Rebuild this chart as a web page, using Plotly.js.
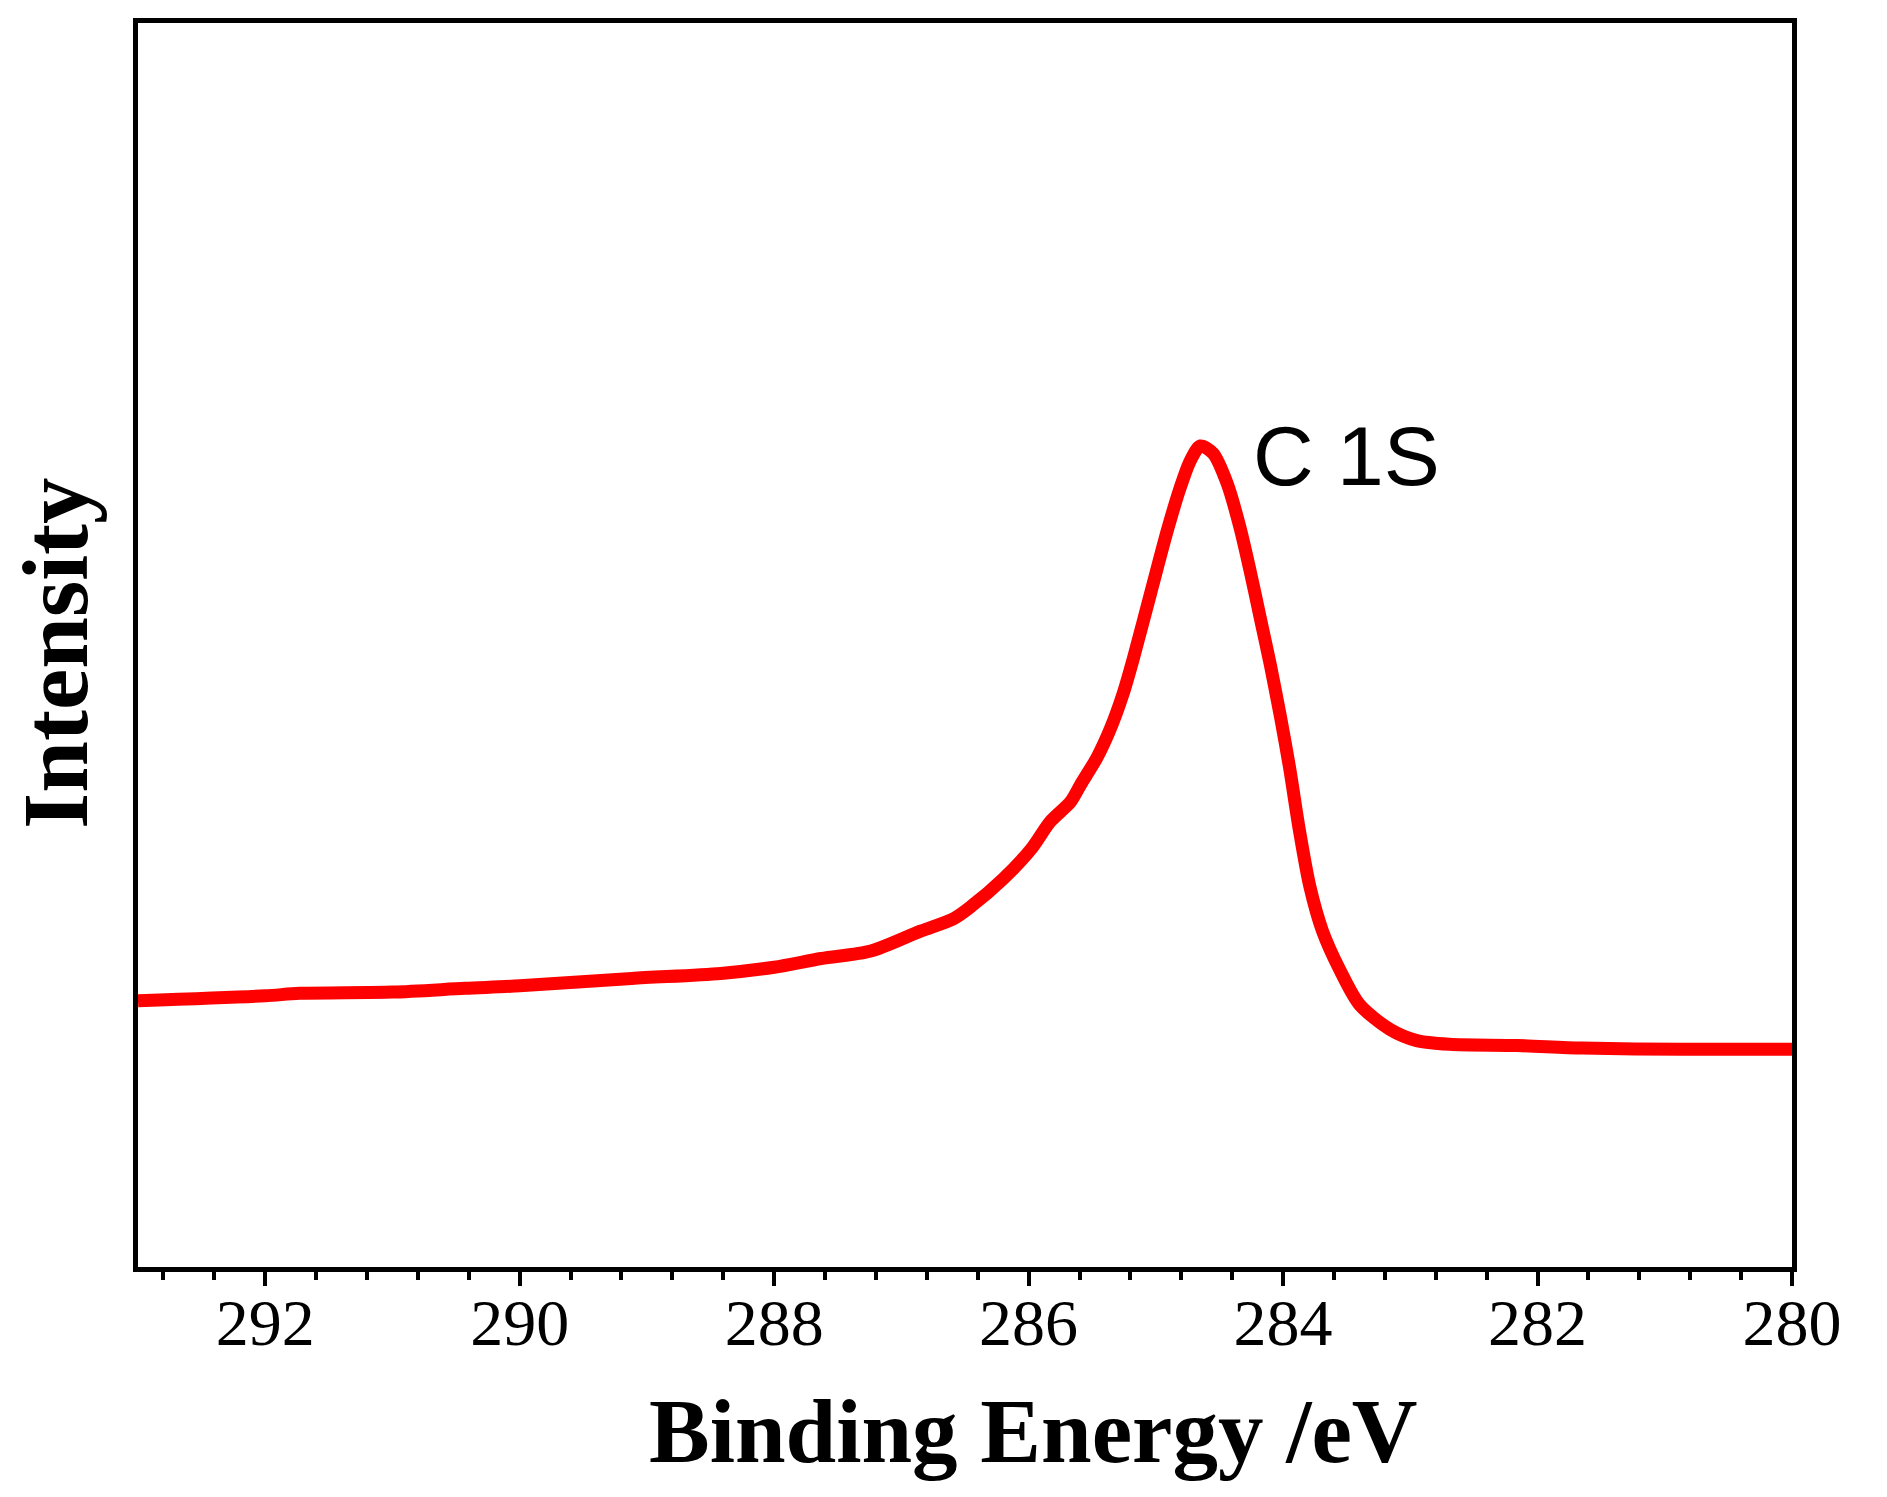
<!DOCTYPE html>
<html>
<head>
<meta charset="utf-8">
<script src="https://cdn.plot.ly/plotly-3.0.1.min.js"></script>
<style>
  html, body { margin: 0; padding: 0; background: #ffffff; }
  #chart { width: 1887px; height: 1497px; }
</style>
</head>
<body>
<div id="chart"></div>
<script>
// Binding energy (eV) and intensity (arbitrary units)
const bindingEnergy = [
  293.0, 292.0, 291.73, 291.0, 290.43, 290.0, 289.12, 288.42, 288.0, 287.63,
  287.24, 286.85, 286.59, 286.45, 286.2, 285.98, 285.83, 285.67, 285.59, 285.46,
  285.36, 285.26, 285.18, 285.04, 284.91, 284.81, 284.73, 284.65, 284.55, 284.44,
  284.34, 284.26, 284.18, 284.1, 284.02, 283.95, 283.87, 283.79, 283.69, 283.55,
  283.4, 283.16, 282.95, 282.69, 282.16, 281.65, 280.86, 280.0
];
const intensity = [
  21.4, 21.8, 22.0, 22.1, 22.4, 22.6, 23.2, 23.6, 24.1, 24.8,
  25.4, 27.0, 28.0, 29.0, 31.2, 33.6, 35.8, 37.4, 38.8, 41.0,
  43.2, 46.0, 48.8, 54.2, 59.2, 62.6, 64.8, 66.0, 65.4, 63.0,
  59.5, 56.0, 52.2, 48.4, 44.2, 40.2, 35.0, 30.6, 27.0, 23.8,
  21.1, 19.1, 18.2, 17.9, 17.8, 17.6, 17.5, 17.5
];
const xTickValues = [292, 290, 288, 286, 284, 282, 280];
const xTitle = "Binding Energy /eV";
const yTitle = "Intensity";
const peakLabel = "C 1S";
const peakLabelEnergy = 284.25;
const peakLabelIntensity = 65.2;

const serif = '"Liberation Serif", "Times New Roman", Times, serif';
const sans = '"Liberation Sans", Arial, Helvetica, sans-serif';

const trace = {
  x: bindingEnergy,
  y: intensity,
  type: 'scatter',
  mode: 'lines',
  line: { color: '#ff0000', width: 13, shape: 'spline', smoothing: 0.8 },
  showlegend: false,
  hoverinfo: 'x+y'
};

const layout = {
  width: 1887,
  height: 1497,
  paper_bgcolor: '#ffffff',
  plot_bgcolor: '#ffffff',
  margin: { l: 138, r: 95, t: 23, b: 230 },
  showlegend: false,
  xaxis: {
    range: [293.0, 280],
    tickvals: xTickValues,
    ticktext: xTickValues.map(String),
    ticks: 'outside',
    ticklen: 14,
    tickwidth: 4,
    tickcolor: '#000000',
    ticklabelstandoff: -20,
    minor: { dtick: 0.4, tick0: 280, ticks: 'outside', ticklen: 8, tickwidth: 4, tickcolor: '#000000', showgrid: false },
    showline: true,
    linecolor: '#000000',
    linewidth: 5,
    mirror: true,
    showgrid: false,
    zeroline: false,
    tickfont: { family: serif, size: 66, color: '#000000' }
  },
  yaxis: {
    range: [0, 100],
    showticklabels: false,
    ticks: '',
    showline: true,
    linecolor: '#000000',
    linewidth: 5,
    mirror: true,
    showgrid: false,
    zeroline: false
  },
  annotations: [
    {
      x: peakLabelEnergy,
      y: peakLabelIntensity,
      xref: 'x',
      yref: 'y',
      text: peakLabel,
      showarrow: false,
      xanchor: 'left',
      yanchor: 'middle',
      font: { family: sans, size: 84, color: '#000000' }
    },
    {
      x: 0.5417,
      y: -0.1326,
      xref: 'paper',
      yref: 'paper',
      text: '<b>' + xTitle + '</b>',
      showarrow: false,
      xanchor: 'center',
      yanchor: 'middle',
      font: { family: serif, size: 91, color: '#000000' }
    },
    {
      x: -0.0496,
      y: 0.4936,
      xref: 'paper',
      yref: 'paper',
      text: '<b>' + yTitle + '</b>',
      textangle: -90,
      showarrow: false,
      xanchor: 'center',
      yanchor: 'middle',
      font: { family: serif, size: 93, color: '#000000' }
    }
  ]
};

Plotly.newPlot('chart', [trace], layout, { displayModeBar: false, staticPlot: true });
</script>
</body>
</html>
